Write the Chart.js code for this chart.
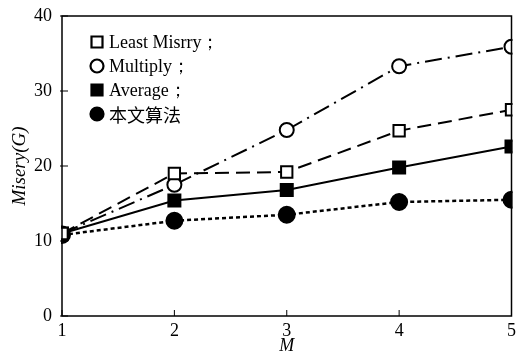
<!DOCTYPE html>
<html>
<head>
<meta charset="utf-8">
<script src="https://cdn.jsdelivr.net/npm/chart.js@4/dist/chart.umd.min.js"></script>
<style>
  html, body { margin: 0; padding: 0; background: #fff; }
  #wrap { width: 522px; height: 358px; }
</style>
</head>
<body>
<div id="wrap"><canvas id="chart" width="522" height="358"></canvas></div>
<script>
// Data
const mValues = ['1', '2', '3', '4', '5'];
const yTicks = [0, 10, 20, 30, 40];
const seriesNames = ['Least Misrry；', 'Multiply；', 'Average；', '本文算法'];
const leastMisery = [11, 19.0, 19.2, 24.7, 27.5];
const multiply = [11, 17.5, 24.8, 33.3, 35.9];
const average = [11, 15.4, 16.8, 19.8, 22.6];
const ours = [10.8, 12.7, 13.5, 15.2, 15.5];

const SERIF = '"Liberation Serif", "DejaVu Serif", serif';
const CJK = '"Noto Sans CJK SC", sans-serif';

const styles = [
    { dash: [14, 7], point: 'rect', fill: '#fff', radius: 8, width: 2 },
    { dash: [17, 6, 2, 6], point: 'circle', fill: '#fff', radius: 7, width: 2 },
    { dash: [], point: 'rect', fill: '#000', radius: 8.5, width: 2 },
    { dash: [4, 3], point: 'circle', fill: '#000', radius: 8, width: 2.5 }
];
const seriesData = [leastMisery, multiply, average, ours];

// frame + inward ticks + legend drawn over the chart area
const framePlugin = {
    id: 'frame',
    afterDraw(chart) {
        const { ctx, chartArea: a, scales } = chart;
        ctx.save();
        ctx.strokeStyle = '#000';
        ctx.lineWidth = 1.5;
        ctx.setLineDash([]);
        ctx.strokeRect(a.left, a.top, a.right - a.left, a.bottom - a.top);

        ctx.lineWidth = 1;
        mValues.forEach((m, i) => {
            const x = scales.x.getPixelForValue(i);
            ctx.beginPath();
            ctx.moveTo(x, a.bottom);
            ctx.lineTo(x, a.bottom - 6);
            ctx.stroke();
        });
        yTicks.forEach(v => {
            const y = scales.y.getPixelForValue(v);
            ctx.beginPath();
            ctx.moveTo(a.left - 2, y);
            ctx.lineTo(a.left + 6, y);
            ctx.stroke();
        });

        // legend
        const x0 = 97, rows = [42, 66, 90, 114];
        chart.data.datasets.forEach((ds, i) => {
            const y = rows[i];
            const s = styles[i];
            ctx.lineWidth = 2.2;
            ctx.fillStyle = s.fill;
            ctx.strokeStyle = '#000';
            ctx.beginPath();
            if (s.point === 'rect') {
                ctx.rect(x0 - 5.5, y - 5.5, 11, 11);
            } else {
                ctx.arc(x0, y, 6.5, 0, Math.PI * 2);
            }
            ctx.fill();
            ctx.stroke();
            ctx.fillStyle = '#000';
            ctx.textBaseline = 'middle';
            ctx.textAlign = 'left';
            ctx.font = (i === 3 ? '18px ' + CJK : '18px ' + SERIF);
            ctx.fillText(ds.label, x0 + 12, y + 1);
        });
        ctx.restore();
    }
};

function drawChart() {
    const datasets = seriesNames.map((name, i) => ({
        label: name,
        data: seriesData[i],
        borderColor: '#000',
        borderWidth: styles[i].width,
        borderDash: styles[i].dash,
        pointStyle: styles[i].point,
        pointRadius: styles[i].radius,
        pointBackgroundColor: styles[i].fill,
        pointBorderColor: '#000',
        pointBorderWidth: 2,
        tension: 0,
        fill: false,
        clip: 1
    }));

    new Chart(document.getElementById('chart'), {
        type: 'line',
        data: { labels: mValues, datasets: datasets },
        plugins: [framePlugin],
        options: {
            responsive: false,
            animation: false,
            layout: { padding: { top: 16, right: 6, left: 0, bottom: 0 } },
            plugins: {
                legend: { display: false },
                tooltip: { enabled: false }
            },
            scales: {
                x: {
                    offset: false,
                    grid: { display: false },
                    border: { display: false },
                    ticks: { color: '#000', font: { family: SERIF, size: 18 }, padding: -4, maxRotation: 0 },
                    title: {
                        display: true, text: 'M', color: '#000',
                        font: { family: SERIF, size: 18, style: 'italic' }, padding: { top: 0, bottom: 1 }
                    },
                    afterFit(scale) { scale.height = 42; }
                },
                y: {
                    min: 0, max: 40,
                    afterBuildTicks(scale) { scale.ticks = yTicks.map(v => ({ value: v })); },
                    grid: { display: false },
                    border: { display: false },
                    ticks: { color: '#000', font: { family: SERIF, size: 18 }, padding: 2 },
                    title: {
                        display: true, text: 'Misery(G)', color: '#000',
                        font: { family: SERIF, size: 19, style: 'italic' }, padding: { top: 9, bottom: 0 }
                    },
                    afterFit(scale) { scale.width = 62; }
                }
            }
        }
    });
}

// make sure the serif and CJK faces are ready before the canvas draws text
Promise.all([
    document.fonts.load('18px "Liberation Serif"'),
    document.fonts.load('italic 18px "Liberation Serif"'),
    document.fonts.load('18px "Noto Sans CJK SC"', '本文算法')
]).then(drawChart, drawChart);
</script>
</body>
</html>
